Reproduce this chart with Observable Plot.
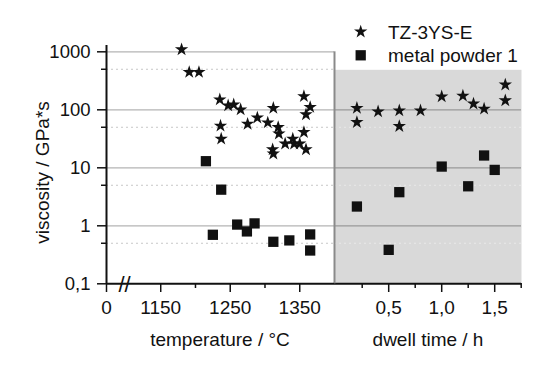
<!DOCTYPE html>
<html><head><meta charset="utf-8">
<script src="https://cdn.jsdelivr.net/npm/d3@7"></script>
<script src="https://cdn.jsdelivr.net/npm/@observablehq/plot@0.6"></script>
<style>
body{margin:0;background:#fff;}
#wrap{position:relative;width:560px;height:376px;font-family:"Liberation Sans",Arial,sans-serif;background:#fff;}
#wrap svg{position:absolute;left:0;top:0;}
</style></head><body><div id="wrap"></div>
<script>
// ---- data ----
const tzTemp      = [1180,1191,1205,1235,1236,1237,1247,1255,1265,1275,1289,1304,1312,1311,1312,1319,1320,1329,1340,1342,1350,1356,1365,1359,1356,1359];
const tzTempVisc  = [1096,446,446,150,53,31.6,118,123,101,57,73,60,107,20.7,17.5,50,38.6,26,31.6,26,26,171,111,83,41,20.7];
const mpTemp      = [1215,1237,1225,1260,1274,1285,1312,1335,1365,1365];
const mpTempVisc  = [13,4.2,0.70,1.05,0.80,1.1,0.53,0.56,0.71,0.375];
const tzDwell     = [0.2,0.2,0.4,0.6,0.6,0.8,1.0,1.2,1.3,1.4,1.6,1.6];
const tzDwellVisc = [107,61,93,97,52,97,169,174,127,104,270,145];
const mpDwell     = [0.2,0.6,0.5,1.0,1.25,1.4,1.5];
const mpDwellVisc = [2.15,3.8,0.385,10.5,4.8,16.3,9.2];

const yTicks = [0.1,1,10,100,1000];
const yTickLabels = ["0,1","1","10","100","1000"];
const yMinor = [0.5,5,50,500];
const tempTicks = [0,1150,1250,1350];
const tempTickLabels = ["0","1150","1250","1350"];
const tempMinor = [1200,1300];
const tempBreak = 1098;   // where the broken temperature axis resumes
const tempMax = 1400;
const dwellTicks = [0.5,1,1.5];
const dwellTickLabels = ["0,5","1,0","1,5"];
const dwellMinor = [0.25,0.75,1.25,1.75];
const series = ["TZ-3YS-E","metal powder 1"];
const xTitles = ["temperature / °C","dwell time / h"];
const yTitle = "viscosity / GPa*s";

// ---- build tables ----
const zip = (xs, ys) => xs.map((x, i) => ({x, y: ys[i]}));
const tzT = zip(tzTemp, tzTempVisc), mpT = zip(mpTemp, mpTempVisc);
const tzD = zip(tzDwell, tzDwellVisc), mpD = zip(mpDwell, mpDwellVisc);

const FONT = '"Liberation Sans", Arial, sans-serif';
const INK = "#111";
const yScale = {type: "log", domain: [0.1, 1285], range: [283.3, 45]};
const starR = 4.2, sqR = 5.8;

// broken axis: the segment 0..tempBreak is squeezed into a short stub
const stub = 26;
const brokenT = t => t < tempBreak ? (tempBreak - stub) + t * (stub / tempBreak) : t;

// right panel (dwell time), drawn first (underneath)
const right = Plot.plot({
  width: 560, height: 376,
  marginLeft: 334, marginRight: 39, marginTop: 69.3, marginBottom: 93,
  style: {background: "transparent", fontFamily: FONT, color: INK},
  x: {domain: [0, 1.75], range: [335.2, 520.7], axis: null},
  y: {...yScale, axis: null},
  marks: [
    Plot.frame({fill: "#d9d9d9", stroke: null}),
    Plot.ruleY(yMinor.filter(v => v < 500), {stroke: "#e9e9e9", strokeDasharray: "2,3", strokeWidth: 1}),
    Plot.ruleY([1, 10, 100], {stroke: "#999", strokeWidth: 1.3}),
    Plot.axisX(dwellTicks, {anchor: "bottom", tickSize: 9, tickPadding: 8, strokeWidth: 1.5, fontSize: 19,
      tickFormat: d => dwellTickLabels[dwellTicks.indexOf(d)], label: null}),
    Plot.axisX(dwellMinor, {anchor: "bottom", tickSize: 5, strokeWidth: 1.5, tickFormat: () => "", label: null}),
    Plot.ruleY([0.1], {stroke: INK, strokeWidth: 2}),
    Plot.dot(tzD, {x: "x", y: "y", symbol: "star", r: starR, fill: INK, stroke: null}),
    Plot.dot(mpD, {x: "x", y: "y", symbol: "square", r: sqR, fill: INK, stroke: null})
  ]
});

// left panel (temperature, broken axis)
const left = Plot.plot({
  width: 560, height: 376,
  marginLeft: 106, marginRight: 226, marginTop: 45, marginBottom: 93,
  style: {background: "transparent", fontFamily: FONT, color: INK},
  x: {type: "linear", transform: brokenT, domain: [tempBreak - stub, tempMax], range: [106, 334]},
  y: yScale,
  marks: [
    Plot.ruleY(yMinor, {stroke: "#c8c8c8", strokeDasharray: "2,3", strokeWidth: 1}),
    Plot.ruleY([1, 10, 100, 1000], {stroke: "#b4b4b4", strokeWidth: 1.3}),
    Plot.ruleX([tempMax], {y1: 1000, y2: 0.1, stroke: "#8a8a8a", strokeWidth: 2}),
    Plot.axisY(yTicks, {anchor: "left", tickSize: 9, tickPadding: 7, strokeWidth: 1.5, fontSize: 18.5,
      tickFormat: d => yTickLabels[yTicks.indexOf(d)], label: null}),
    Plot.axisY(yMinor, {anchor: "left", tickSize: 5, strokeWidth: 1.5, tickFormat: () => "", label: null}),
    Plot.axisX(tempTicks, {anchor: "bottom", tickSize: 9, tickPadding: 8, strokeWidth: 1.5, fontSize: 19,
      tickFormat: d => tempTickLabels[tempTicks.indexOf(d)], label: null}),
    Plot.axisX(tempMinor, {anchor: "bottom", tickSize: 5, strokeWidth: 1.5, tickFormat: () => "", label: null}),
    Plot.ruleX([0], {stroke: INK, strokeWidth: 2}),
    Plot.ruleY([0.1], {stroke: INK, strokeWidth: 2}),
    Plot.text(["//"], {x: tempBreak, y: 0.1, text: d => d, fontSize: 22, fill: INK, dy: 1}),
    Plot.dot(tzT, {x: "x", y: "y", symbol: "star", r: starR, fill: INK, stroke: null}),
    Plot.dot(mpT, {x: "x", y: "y", symbol: "square", r: sqR, fill: INK, stroke: null})
  ]
});

const wrap = document.getElementById("wrap");
wrap.appendChild(right);
wrap.appendChild(left);

// overlay: titles + legend
const ov = d3.create("svg").attr("width", 560).attr("height", 376)
  .attr("font-family", FONT).attr("fill", INK);
ov.append("text").attr("x", 220).attr("y", 346).attr("text-anchor", "middle")
  .attr("font-size", 19).text(xTitles[0]);
ov.append("text").attr("x", 428).attr("y", 346).attr("text-anchor", "middle")
  .attr("font-size", 19).text(xTitles[1]);
ov.append("text").attr("transform", "translate(49,172.5) rotate(-90)").attr("text-anchor", "middle")
  .attr("font-size", 19).text(yTitle);
const legSyms = [d3.symbolStar, d3.symbolSquare];
const legR = [starR, sqR];
const legY = [31.7, 55.3];
series.forEach((s, i) => {
  ov.append("path").attr("transform", `translate(360.7,${legY[i]})`)
    .attr("d", d3.symbol(legSyms[i], Math.PI * legR[i] * legR[i])());
  ov.append("text").attr("x", 388).attr("y", legY[i] + 6.8).attr("font-size", 19).text(s);
});
wrap.appendChild(ov.node());
</script></body></html>
